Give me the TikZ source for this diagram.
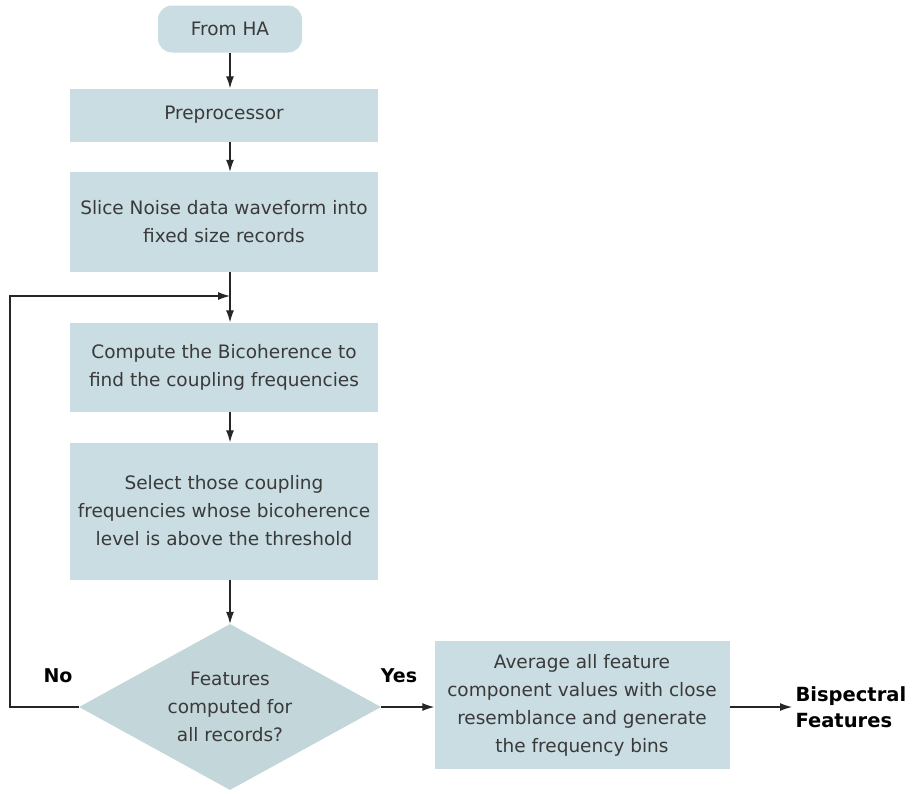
\documentclass[tikz,border=0pt]{standalone}
\usepackage{fontspec}
\setmainfont{DejaVu Sans}
\usetikzlibrary{shapes.geometric,arrows.meta}
\definecolor{boxfill}{HTML}{C9DDE2}
\definecolor{decfill}{HTML}{C3D6DA}
\definecolor{inktext}{HTML}{3A3A3A}
\begin{document}
\begin{tikzpicture}[x=1pt,y=-1pt,
  every node/.style={font=\fontsize{18.5}{28}\selectfont, text=inktext},
  procbox/.style={rectangle, fill=boxfill, minimum width=308pt, align=center, inner sep=0pt},
  startbox/.style={rectangle, rounded corners=14pt, fill=boxfill, minimum width=144pt, minimum height=47pt},
  decision/.style={diamond, fill=decfill, shape aspect=1.82, minimum width=302pt, minimum height=166pt, inner sep=-4pt, align=center},
  lbl/.style={font=\fontsize{19}{22}\selectfont\bfseries, text=black},
  flow/.style={-{Latex[length=12pt,width=8pt]}, line width=1.2pt, draw=black!85}]
\useasboundingbox (0,0) rectangle (912,793);
\node[startbox] (start) at (230,29) {From HA};
\node[procbox, minimum height=53pt] (pre) at (224,115) {Preprocessor};
\node[procbox, minimum height=100pt] (slice) at (224,222) {Slice Noise data waveform into\\fixed size records};
\node[procbox, minimum height=89pt] (bic) at (224,367) {Compute the Bicoherence to\\find the coupling frequencies};
\node[procbox, minimum height=137pt] (sel) at (224,511) {Select those coupling\\frequencies whose bicoherence\\level is above the threshold};
\node[decision] (dec) at (230,707) {Features\\computed for\\all records?};
\node[procbox, minimum width=295pt, minimum height=128pt] (avg) at (582,705) {Average all feature\\component values with close\\resemblance and generate\\the frequency bins};
\node[anchor=west, font=\fontsize{19.5}{26}\selectfont\bfseries, text=black, align=left] (out) at (792,707) {Bispectral\\Features};
\node[lbl] (no) at (58,676) {No};
\node[lbl] (yes) at (399,676) {Yes};
\coordinate (join) at (230,296);
\coordinate (loopl) at (10,707);
\coordinate (loopt) at (10,296);
\draw[flow] (start.south -| 230,0) -- (pre.north -| 230,0);
\draw[flow] (pre.south -| 230,0) -- (slice.north -| 230,0);
\draw[line width=1.2pt, draw=black!85] (slice.south -| 230,0) -- (join);
\draw[flow] (join) -- (bic.north -| 230,0);
\draw[flow] (bic.south -| 230,0) -- (sel.north -| 230,0);
\draw[flow] (sel.south -| 230,0) -- (dec.north);
\draw[flow] (dec.west) -- (loopl) -- (loopt) -- (join);
\draw[flow] (dec.east) -- (avg.west |- dec.east);
\draw[flow] (avg.east |- dec.east) -- (out.west |- dec.east);
\end{tikzpicture}
\end{document}
